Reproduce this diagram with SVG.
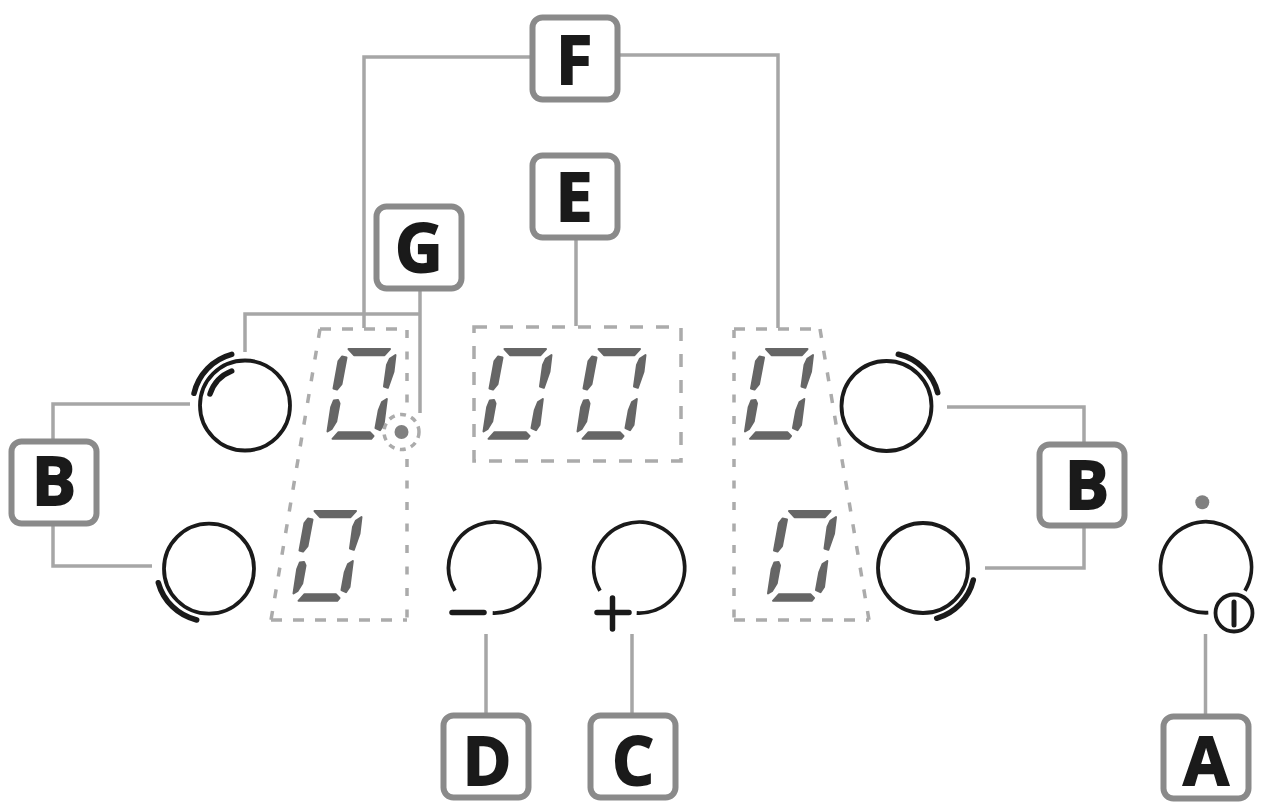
<svg xmlns="http://www.w3.org/2000/svg" width="1262" height="804" viewBox="0 0 1262 804">
<style>
.box{fill:#fff;stroke:#8a8a8a;stroke-width:6}
.lbl{font-family:"Open Sans","Liberation Sans",sans-serif;font-weight:700;font-size:66px;fill:#1a1a1a;stroke:#1a1a1a;stroke-width:1.800;text-anchor:middle}
.conn{fill:none;stroke:#a6a6a6;stroke-width:3.500}
.ring{fill:none;stroke:#1a1a1a;stroke-width:3.800}
.arc{fill:none;stroke:#1a1a1a;stroke-width:5.500;stroke-linecap:round}
.dash{fill:none;stroke:#ababab;stroke-width:3.500}
.seg{fill:#666;stroke:#666;stroke-width:2;stroke-linejoin:round}
.dot{fill:#808080}
</style>
<defs>
<g id="digit">
<path class="seg" d="M21.500 3H63L57.500 9.200H27Z"/>
<path class="seg" d="M68.500 9L66.500 25.700L60.800 41.800L57 40.500L60 19L62.800 12.800Z"/>
<path class="seg" d="M19.500 11.500L15 10.500L11.500 15L6.500 42.500L10 43.500L14.500 38Z"/>
<path class="seg" d="M11 54L6.800 54.500L4.200 61L0.500 85.500L4.700 82.800L9.200 75.500L12.500 57.500Z"/>
<path class="seg" d="M59.800 53L55 56L51.800 64L48.500 82L53 84.200L56.500 79Z"/>
<path class="seg" d="M5.500 92.800L11.500 86.200H42.800L46.500 90L44.200 92.800Z"/>
</g>
</defs>
<g id="connectors">
<path class="conn" d="M532 57H364V328"/>
<path class="conn" d="M618 55H778V328"/>
<path class="conn" d="M576 238V326"/>
<path class="conn" d="M420 289V413"/>
<path class="conn" d="M245 352V314H420"/>
<path class="conn" d="M53 441V404H190"/>
<path class="conn" d="M53 524V566H152"/>
<path class="conn" d="M1084 444V407H947"/>
<path class="conn" d="M1084 526V568H985"/>
<path class="conn" d="M486 634V715"/>
<path class="conn" d="M632 634V715"/>
<path class="conn" d="M1205.500 634V716"/>
</g>
<g id="display-left">
<path class="dash" d="M320 329H407" stroke-dasharray="11 11"/>
<path class="dash" d="M407 330V620" stroke-dasharray="8 13.500"/>
<path class="dash" d="M320 329L271 620" stroke-dasharray="9 13"/>
<path class="dash" d="M271 620H407" stroke-dasharray="11 11"/>
<use href="#digit" x="327" y="346"/>
<use href="#digit" x="293" y="508"/>
</g>
<g id="display-center">
<rect class="dash" x="474" y="327" width="207" height="134" stroke-dasharray="13 13"/>
<use href="#digit" x="483" y="346"/>
<use href="#digit" x="577" y="346"/>
</g>
<g id="display-right">
<path class="dash" d="M734 329H820" stroke-dasharray="11 11"/>
<path class="dash" d="M734 330V620" stroke-dasharray="8 13.500"/>
<path class="dash" d="M820 329L869 620" stroke-dasharray="9 13"/>
<path class="dash" d="M734 620H869" stroke-dasharray="11 11"/>
<use href="#digit" x="744.500" y="346"/>
<use href="#digit" x="767.500" y="508"/>
</g>
<g id="timer-dot">
<circle cx="401.500" cy="432" r="17.500" fill="#fff" stroke="#ababab" stroke-width="3.500" stroke-dasharray="6 5.500"/>
<circle class="dot" cx="401.500" cy="432" r="7"/>
</g>
<g id="zone-top-left">
<circle class="ring" cx="245" cy="405.500" r="45"/>
<path class="arc" d="M231.700 354.300A52.700 52.700 0 0 0 194 393.300"/>
<path class="arc" d="M231.700 371A37 37 0 0 0 210 394"/>
</g>
<g id="zone-bottom-left">
<circle class="ring" cx="209" cy="568.700" r="45"/>
<path class="arc" d="M158.300 582.700A52.700 52.700 0 0 0 196.700 620"/>
</g>
<g id="zone-top-right">
<circle class="ring" cx="886.500" cy="406" r="45"/>
<path class="arc" d="M898.300 354.300A52.700 52.700 0 0 1 937.700 392.700"/>
</g>
<g id="zone-bottom-right">
<circle class="ring" cx="923" cy="568" r="45"/>
<path class="arc" d="M973.300 580A52.700 52.700 0 0 1 936.700 618.300"/>
</g>
<g id="minus-key">
<path class="ring" d="M455 590.700A45.500 45.500 0 1 1 492.700 613"/>
<path class="arc" d="M452 612.500H484"/>
</g>
<g id="plus-key">
<path class="ring" d="M600 590.700A45.500 45.500 0 1 1 636.700 613"/>
<path class="arc" d="M597 612.500H629M612.500 598V629"/>
</g>
<g id="power-key">
<path class="ring" d="M1245 590.700A45.500 45.500 0 1 0 1208.300 612.700"/>
<circle class="ring" cx="1234" cy="613" r="18.500"/>
<path d="M1234 602V625" stroke="#1a1a1a" stroke-width="5" stroke-linecap="round"/>
<circle class="dot" cx="1202.300" cy="502.300" r="7"/>
</g>
<g id="label-F"><rect class="box" x="532.500" y="17.500" width="85" height="82" rx="10"/><text class="lbl" x="574" y="84">F</text></g>
<g id="label-E"><rect class="box" x="532.500" y="155.500" width="85" height="82" rx="10"/><text class="lbl" x="574" y="221">E</text></g>
<g id="label-G"><rect class="box" x="376.500" y="206.500" width="85" height="82" rx="10"/><text class="lbl" x="419" y="272">G</text></g>
<g id="label-B-left"><rect class="box" x="11.500" y="441.500" width="85" height="82" rx="10"/><text class="lbl" x="54" y="505">B</text></g>
<g id="label-B-right"><rect class="box" x="1039.500" y="444.500" width="85" height="81" rx="10"/><text class="lbl" x="1087" y="509">B</text></g>
<g id="label-D"><rect class="box" x="443.500" y="715.500" width="85" height="82" rx="10"/><text class="lbl" x="487" y="785">D</text></g>
<g id="label-C"><rect class="box" x="590.500" y="715.500" width="85" height="82" rx="10"/><text class="lbl" x="633" y="785">C</text></g>
<g id="label-A"><rect class="box" x="1163.500" y="716.500" width="85" height="82" rx="10"/><text class="lbl" x="1206" y="785">A</text></g>
</svg>
